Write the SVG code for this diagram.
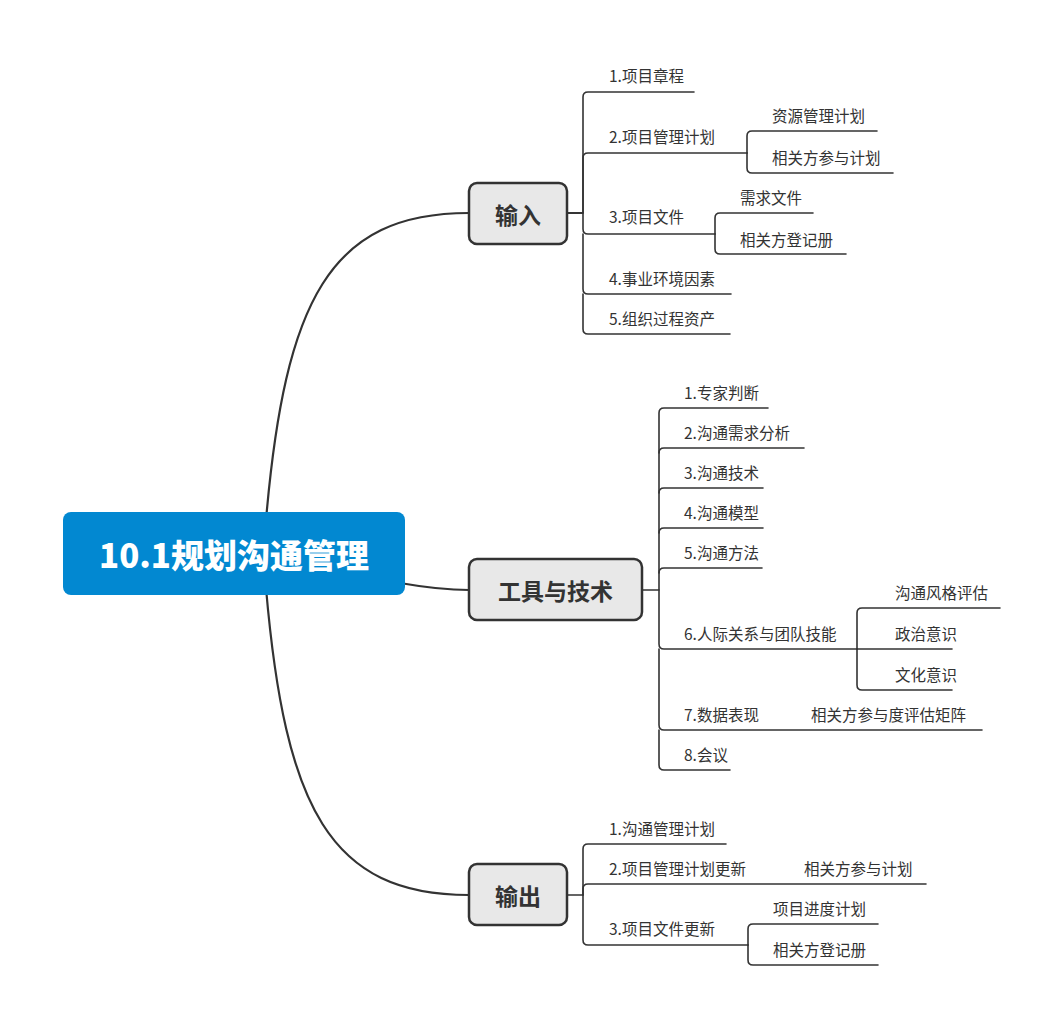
<svg xmlns="http://www.w3.org/2000/svg" width="1063" height="1028" viewBox="0 0 1063 1028">
<style>
.c{fill:none;stroke:#333;stroke-width:1.6;stroke-linecap:round;stroke-linejoin:round}
.m{fill:none;stroke:#333;stroke-width:2.2}
.t{font-family:"Noto Sans CJK SC","Noto Sans",sans-serif;font-size:15.5px;fill:#333;dominant-baseline:central}
.b rect{fill:#e8e8e8;stroke:#333;stroke-width:2.5}
.b text{font-family:"Noto Sans CJK SC","Noto Sans",sans-serif;font-size:23px;font-weight:bold;fill:#333;text-anchor:middle;dominant-baseline:central}
</style>
<rect width="1063" height="1028" fill="#fff"/>
<g id="connectors">
<path class="m" d="M266,520 C285,300 330,213 469,213"/>
<path class="m" d="M266,588 C285,808 330,895 469,895"/>
<path class="m" d="M400,583 Q440,590 469,590"/>
<path class="c" d="M567,213 H583 V97 Q583,92 588,92 H694"/>
<path class="c" d="M567,213 H583 V158 Q583,153 588,153 H747"/>
<path class="c" d="M567,213 H583 V229 Q583,234 588,234 H715"/>
<path class="c" d="M583,234 V289 Q583,294 588,294 H731"/>
<path class="c" d="M583,294 V329 Q583,334 588,334 H730"/>
<path class="c" d="M747,153 V136 Q747,131 752,131 H877"/>
<path class="c" d="M747,153 V168 Q747,173 752,173 H893"/>
<path class="c" d="M715,234 V218 Q715,213 720,213 H813"/>
<path class="c" d="M715,234 V249 Q715,254 720,254 H846"/>
<path class="c" d="M642,590 H659 V413 Q659,408 664,408 H768"/>
<path class="c" d="M659,453 Q659,448 664,448 H804"/>
<path class="c" d="M659,493 Q659,488 664,488 H763"/>
<path class="c" d="M659,533 Q659,528 664,528 H763"/>
<path class="c" d="M659,573 Q659,568 664,568 H762"/>
<path class="c" d="M659,590 V644 Q659,649 664,649 H857"/>
<path class="c" d="M659,649 V725 Q659,730 664,730 H982"/>
<path class="c" d="M659,730 V765 Q659,770 664,770 H730"/>
<path class="c" d="M857,649 V613 Q857,608 862,608 H1000"/>
<path class="c" d="M857,649 H952"/>
<path class="c" d="M857,649 V685 Q857,690 862,690 H952"/>
<path class="c" d="M567,895 H583 V849 Q583,844 588,844 H726"/>
<path class="c" d="M583,895 V889 Q583,884 588,884 H926"/>
<path class="c" d="M583,895 V940 Q583,945 588,945 H748"/>
<path class="c" d="M748,945 V929 Q748,924 753,924 H878"/>
<path class="c" d="M748,945 V960 Q748,965 753,965 H878"/>
</g>
<g id="root">
<rect x="63" y="512" width="342" height="83" rx="8" fill="#0288d1"/>
<text x="234" y="554" font-family="'Noto Sans CJK SC','Noto Sans',sans-serif" font-size="33" font-weight="900" fill="#fff" text-anchor="middle" dominant-baseline="central">10.1规划沟通管理</text>
</g>
<g id="n-input" class="b"><rect x="469" y="183" width="98" height="61" rx="8"/><text x="518" y="214">输入</text></g>
<g id="n-tools" class="b"><rect x="469" y="559" width="173" height="61" rx="8"/><text x="555.5" y="590">工具与技术</text></g>
<g id="n-output" class="b"><rect x="469" y="864" width="98" height="61" rx="8"/><text x="518" y="895">输出</text></g>
<g id="input-children">
<text class="t" x="609" y="75">1.项目章程</text>
<text class="t" x="609" y="136">2.项目管理计划</text>
<text class="t" x="772" y="115">资源管理计划</text>
<text class="t" x="772" y="157">相关方参与计划</text>
<text class="t" x="609" y="216">3.项目文件</text>
<text class="t" x="740" y="197">需求文件</text>
<text class="t" x="740" y="239">相关方登记册</text>
<text class="t" x="609" y="278">4.事业环境因素</text>
<text class="t" x="609" y="318">5.组织过程资产</text>
</g>
<g id="tools-children">
<text class="t" x="684" y="392">1.专家判断</text>
<text class="t" x="684" y="432">2.沟通需求分析</text>
<text class="t" x="684" y="472">3.沟通技术</text>
<text class="t" x="684" y="512">4.沟通模型</text>
<text class="t" x="684" y="552">5.沟通方法</text>
<text class="t" x="684" y="633">6.人际关系与团队技能</text>
<text class="t" x="895" y="592">沟通风格评估</text>
<text class="t" x="895" y="633">政治意识</text>
<text class="t" x="895" y="674">文化意识</text>
<text class="t" x="684" y="714">7.数据表现</text>
<text class="t" x="811" y="714">相关方参与度评估矩阵</text>
<text class="t" x="684" y="754">8.会议</text>
</g>
<g id="output-children">
<text class="t" x="609" y="828">1.沟通管理计划</text>
<text class="t" x="609" y="868">2.项目管理计划更新</text>
<text class="t" x="804" y="868">相关方参与计划</text>
<text class="t" x="609" y="928">3.项目文件更新</text>
<text class="t" x="773" y="908">项目进度计划</text>
<text class="t" x="773" y="949">相关方登记册</text>
</g>
</svg>
